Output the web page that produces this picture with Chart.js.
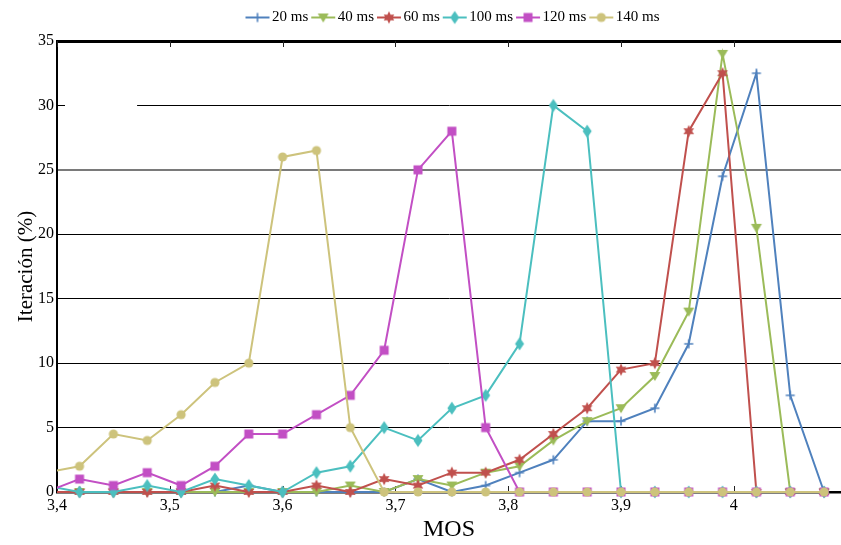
<!DOCTYPE html>
<html>
<head>
<meta charset="utf-8">
<script src="https://cdn.jsdelivr.net/npm/chart.js@4.4.1/dist/chart.umd.min.js"></script>
<style>
  html, body { margin: 0; padding: 0; background: #fff; }
</style>
</head>
<body>
<canvas id="mosChart" width="841" height="545"></canvas>
<script>
// MOS sample points (the first one sits just left of the visible axis)
const mos = [3.39, 3.42, 3.45, 3.48, 3.51, 3.54, 3.57, 3.60, 3.63, 3.66, 3.69, 3.72,
             3.75, 3.78, 3.81, 3.84, 3.87, 3.90, 3.93, 3.96, 3.99, 4.02, 4.05, 4.08];

// Iteration share (%) per MOS point, one array per delay
const ms20  = [0, 0, 0, 0, 0, 0, 0.5, 0, 0, 0, 0, 1, 0, 0.5, 1.5, 2.5, 5.5, 5.5, 6.5, 11.5, 24.5, 32.5, 7.5, 0];
const ms40  = [0, 0, 0, 0, 0, 0, 0, 0, 0, 0.5, 0, 1, 0.5, 1.5, 2, 4, 5.5, 6.5, 9, 14, 34, 20.5, 0, 0];
const ms60  = [0, 0, 0, 0, 0, 0.5, 0, 0, 0.5, 0, 1, 0.5, 1.5, 1.5, 2.5, 4.5, 6.5, 9.5, 10, 28, 32.5, 0, 0, 0];
const ms100 = [0.5, 0, 0, 0.5, 0, 1, 0.5, 0, 1.5, 2, 5, 4, 6.5, 7.5, 11.5, 30, 28, 0, 0, 0, 0, 0, 0, 0];
const ms120 = [0, 1, 0.5, 1.5, 0.5, 2, 4.5, 4.5, 6, 7.5, 11, 25, 28, 5, 0, 0, 0, 0, 0, 0, 0, 0, 0, 0];
const ms140 = [1.5, 2, 4.5, 4, 6, 8.5, 10, 26, 26.5, 5, 0, 0, 0, 0, 0, 0, 0, 0, 0, 0, 0, 0, 0, 0];

const seriesNames = ['20 ms', '40 ms', '60 ms', '100 ms', '120 ms', '140 ms'];
const xTicks = [3.4, 3.5, 3.6, 3.7, 3.8, 3.9, 4.0];
const yTicks = [0, 5, 10, 15, 20, 25, 30, 35];

const seriesValues = [ms20, ms40, ms60, ms100, ms120, ms140];
const seriesColors = ['#4f81bd', '#9bbb59', '#c0504d', '#4bbfbf', '#c24fc4', '#cdc37c'];
const markerKinds = ['plus', 'triangleDown', 'star', 'diamond', 'square', 'circle'];
const serif = 'Liberation Serif';

function drawMarker(ctx, kind, color, cx, cy) {
  ctx.fillStyle = color;
  ctx.strokeStyle = color;
  ctx.beginPath();
  if (kind === 'plus') {
    ctx.lineWidth = 1.6;
    ctx.moveTo(cx - 4.5, cy); ctx.lineTo(cx + 4.5, cy);
    ctx.moveTo(cx, cy - 4.5); ctx.lineTo(cx, cy + 4.5);
    ctx.stroke();
    return;
  }
  if (kind === 'triangleDown') {
    ctx.moveTo(cx - 5.5, cy - 4); ctx.lineTo(cx + 5.5, cy - 4); ctx.lineTo(cx, cy + 5);
  } else if (kind === 'star') {
    for (let k = 0; k < 12; k++) {
      const r = k % 2 === 0 ? 6.2 : 3.3;
      const a = -Math.PI / 2 + k * Math.PI / 6;
      ctx.lineTo(cx + r * Math.cos(a), cy + r * Math.sin(a));
    }
  } else if (kind === 'diamond') {
    ctx.moveTo(cx, cy - 6.5); ctx.lineTo(cx + 4.5, cy); ctx.lineTo(cx, cy + 6.5); ctx.lineTo(cx - 4.5, cy);
  } else if (kind === 'square') {
    ctx.rect(cx - 4.5, cy - 4.5, 9, 9);
  } else {
    ctx.arc(cx, cy, 4.6, 0, Math.PI * 2);
  }
  ctx.closePath();
  ctx.fill();
}

function makeMarker(kind, color, withLine) {
  const c = document.createElement('canvas');
  c.width = withLine ? 26 : 16;
  c.height = 16;
  const ctx = c.getContext('2d');
  const cx = c.width / 2, cy = c.height / 2;
  if (withLine) {
    ctx.strokeStyle = color;
    ctx.lineWidth = 2;
    ctx.beginPath();
    ctx.moveTo(1, cy); ctx.lineTo(c.width - 1, cy);
    ctx.stroke();
  }
  drawMarker(ctx, kind, color, cx, cy);
  return c;
}

const legendIcons = seriesColors.map((col, i) => makeMarker(markerKinds[i], col, true));

const datasets = seriesValues.map((vals, i) => ({
  label: seriesNames[i],
  data: mos.map((m, j) => ({ x: m, y: vals[j] })),
  borderColor: seriesColors[i],
  backgroundColor: seriesColors[i],
  borderWidth: 2,
  tension: 0,
  pointStyle: makeMarker(markerKinds[i], seriesColors[i], false),
  pointRadius: 5,
  pointHoverRadius: 5,
  order: seriesValues.length - 1 - i,
  clip: { left: 0, top: false, right: false, bottom: false }
}));

// small inward tick marks on the bottom and top frame,
// and the 30 % gridline left open near the y axis
const frameDetails = {
  id: 'frameDetails',
  beforeDatasetsDraw(chart) {
    const { ctx, chartArea: a, scales: { x, y } } = chart;
    ctx.save();
    const y30 = y.getPixelForValue(30);
    ctx.fillStyle = '#fff';
    ctx.fillRect(a.left + 8, y30 - 2, x.getPixelForValue(3.471) - a.left - 8, 4);
    ctx.strokeStyle = '#222';
    ctx.lineWidth = 1;
    x.ticks.forEach(t => {
      const px = Math.round(x.getPixelForValue(t.value)) + 0.5;
      ctx.beginPath();
      ctx.moveTo(px, a.bottom); ctx.lineTo(px, a.bottom - 6);
      ctx.moveTo(px, a.top); ctx.lineTo(px, a.top + 6);
      ctx.stroke();
    });
    ctx.restore();
  }
};

// center the legend over the plot area (nudged a little right)
const legendCenter = {
  id: 'legendCenter',
  afterLayout(chart) {
    const lg = chart.legend, a = chart.chartArea;
    const shift = (a.left + a.right) / 2 - (lg.left + lg.right) / 2 + 6;
    lg.left += shift;
    lg.right += shift;
  }
};

new Chart(document.getElementById('mosChart'), {
  type: 'line',
  data: { datasets },
  plugins: [frameDetails, legendCenter],
  options: {
    responsive: false,
    animation: false,
    layout: { padding: { top: 2, left: 0, right: 0, bottom: 0 }, autoPadding: false },
    plugins: {
      tooltip: { enabled: false },
      legend: {
        position: 'top',
        labels: {
          usePointStyle: true,
          pointStyleWidth: 14,
          padding: 8,
          color: '#000',
          font: { family: serif, size: 15 },
          generateLabels: chart => chart.data.datasets.map((ds, i) => ({
            text: ds.label,
            pointStyle: legendIcons[i],
            fillStyle: ds.borderColor,
            strokeStyle: ds.borderColor,
            lineWidth: 0,
            fontColor: '#000',
            hidden: !chart.isDatasetVisible(i),
            datasetIndex: i
          }))
        }
      }
    },
    scales: {
      x: {
        type: 'linear',
        min: 3.4,
        max: 4.095,
        afterBuildTicks: s => { s.ticks = xTicks.map(v => ({ value: v })); },
        afterFit: s => { s.height = 53; },
        grid: { drawOnChartArea: false, drawTicks: false },
        border: { color: '#000', width: 2.5 },
        ticks: {
          autoSkip: false,
          maxRotation: 0,
          padding: 4,
          color: '#000',
          font: { family: serif, size: 16 },
          callback: v => String(Math.round(v * 10) / 10).replace('.', ',')
        },
        title: {
          display: true,
          text: 'MOS',
          color: '#000',
          font: { family: serif, size: 24 },
          padding: { top: 0, bottom: 1 }
        }
      },
      xTop: {
        type: 'linear',
        position: 'top',
        min: 3.4,
        max: 4.095,
        ticks: { display: false },
        grid: { drawOnChartArea: false, drawTicks: false },
        border: { color: '#000', width: 3 },
        afterFit: s => { s.height = 6; }
      },
      y: {
        min: 0,
        max: 35,
        afterBuildTicks: s => { s.ticks = yTicks.map(v => ({ value: v })); },
        afterFit: s => { s.width = 57; },
        grid: {
          drawTicks: false,
          color: c => c.tick && c.tick.value === 25 ? '#7a7a7a' : '#000',
          lineWidth: c => c.tick && c.tick.value === 25 ? 2 : 1
        },
        border: { color: '#000', width: 2 },
        ticks: {
          padding: 3,
          color: '#000',
          font: { family: serif, size: 16 }
        },
        title: {
          display: true,
          text: 'Iteración (%)',
          color: '#000',
          font: { family: serif, size: 21 },
          padding: { top: 14 }
        }
      }
    }
  }
});
</script>
</body>
</html>
